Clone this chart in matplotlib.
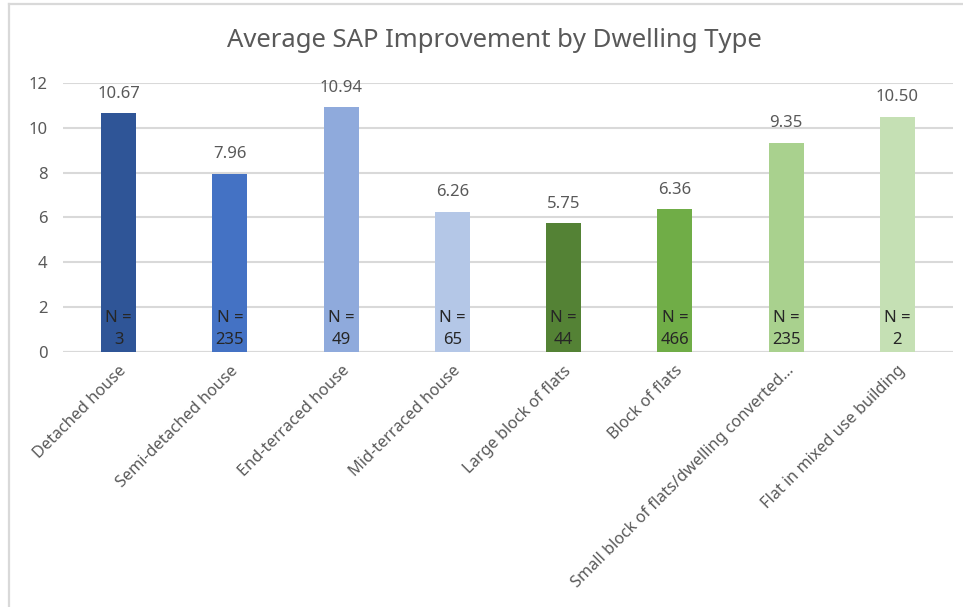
import matplotlib
matplotlib.use("Agg")
import matplotlib.pyplot as plt
from matplotlib.lines import Line2D

plt.rcParams['font.family'] = ['Noto Sans', 'DejaVu Sans']

# average SAP improvement per dwelling type, with sample sizes
dwelling_types = ["Detached house", "Semi-detached house", "End-terraced house",
                  "Mid-terraced house", "Large block of flats", "Block of flats",
                  "Small block of flats/dwelling converted...",
                  "Flat in mixed use building"]
avg_improvement = [10.67, 7.96, 10.94, 6.26, 5.75, 6.36, 9.35, 10.50]
sample_sizes = [3, 235, 49, 65, 44, 466, 235, 2]
bar_colors = ["#2F5597", "#4472C4", "#8FAADC", "#B4C7E7",
              "#548235", "#70AD47", "#A9D18E", "#C5E0B4"]
y_ticks = [0, 2, 4, 6, 8, 10, 12]

GRID = "#D9D9D9"
TEXT = "#595959"

fig = plt.figure(figsize=(9.63, 6.07), dpi=100)
ax = fig.add_axes([0.0654, 0.4206, 0.9242, 0.4422])

x = range(len(dwelling_types))
bars = ax.bar(x, avg_improvement, width=0.315, color=bar_colors, zorder=3)

ax.set_xlim(-0.5, len(dwelling_types) - 0.5)
ax.set_ylim(0, 12)
ax.set_yticks(y_ticks)
ax.set_yticklabels([str(t) for t in y_ticks])
ax.yaxis.grid(True, color=GRID, linewidth=1.5, zorder=0)
ax.set_axisbelow(True)
for s in ax.spines.values():
    s.set_visible(False)
ax.axhline(0, color=GRID, linewidth=1.5, zorder=2)
ax.tick_params(axis='y', length=0, pad=11, labelsize=12, labelcolor=TEXT)
ax.tick_params(axis='x', length=0, pad=8)
ax.set_xticks(list(x))
ax.set_xticklabels(dwelling_types, rotation=45, ha='right', va='top',
                   rotation_mode='anchor', fontsize=11.7, color=TEXT)

# value above each bar, sample size at the base
for i, (val, n) in enumerate(zip(avg_improvement, sample_sizes)):
    ax.annotate("%.2f" % val, (i, val), xytext=(0, 14), textcoords='offset points',
                ha='center', va='center', fontsize=12, color=TEXT)
    ax.annotate("N =\n%d" % n, (i, 0), xytext=(0, 3), textcoords='offset points',
                ha='center', va='bottom', fontsize=12, color="#262626",
                linespacing=1.45, zorder=4)

fig.text(0.513, 0.933, "Average SAP Improvement by Dwelling Type",
         ha='center', va='center', fontsize=18.5, color=TEXT)

# chart frame along the left and top edges
fig.add_artist(Line2D([9 / 963, 9 / 963], [0, 1 - 4 / 607], transform=fig.transFigure,
                      color=GRID, linewidth=1.6))
fig.add_artist(Line2D([9 / 963, 1], [1 - 4 / 607, 1 - 4 / 607], transform=fig.transFigure,
                      color=GRID, linewidth=1.6))

fig.savefig("out.png", dpi=100)
